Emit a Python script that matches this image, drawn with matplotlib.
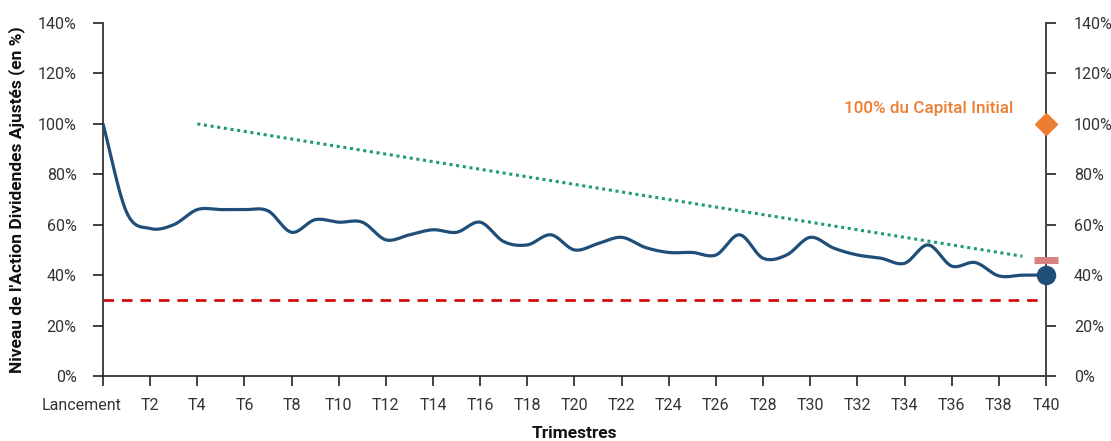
import numpy as np
import matplotlib
matplotlib.use('Agg')
import matplotlib.pyplot as plt
import matplotlib.transforms as mtransforms
from matplotlib.ticker import FuncFormatter

# niveau de l'action (en %) a chaque trimestre, T0 = lancement
trimestres = list(range(0, 41))
niveau = [100, 65, 58.5, 60, 66, 66, 66, 65.5, 57, 62,
          61, 61, 54, 56, 58, 57, 61, 53.3, 52, 56,
          50, 52.5, 55, 51, 49, 49, 48, 56, 46.7, 48,
          55, 50.7, 48, 46.7, 44.7, 52, 43.6, 45, 39.7, 40,
          40]

# barriere de remboursement anticipe (pointilles verts)
barriere_x = [4, 39]
barriere_y = [100, 47.5]

barriere_capital = 30     # ligne rouge
niveau_coupon = 46        # repere rose en T40
capital_initial = 100     # losange orange
niveau_final = 40         # point bleu

tick_pos = [0] + list(range(2, 41, 2))
tick_lab = ['Lancement'] + [f'T{i}' for i in range(2, 41, 2)]


def lissage(x, y, n=20):
    # courbe lissee type Catmull-Rom (comme "lissage" d'Excel)
    x = np.asarray(x, float)
    y = np.asarray(y, float)
    px = np.concatenate([[2 * x[0] - x[1]], x, [2 * x[-1] - x[-2]]])
    py = np.concatenate([[2 * y[0] - y[1]], y, [2 * y[-1] - y[-2]]])
    xs, ys = [], []
    t = np.linspace(0, 1, n, endpoint=False)
    for i in range(1, len(px) - 2):
        for p, out in ((px, xs), (py, ys)):
            p0, p1, p2, p3 = p[i - 1], p[i], p[i + 1], p[i + 2]
            out.extend(0.5 * ((2 * p1) + (-p0 + p2) * t
                              + (2 * p0 - 5 * p1 + 4 * p2 - p3) * t ** 2
                              + (-p0 + 3 * p1 - 3 * p2 + p3) * t ** 3))
    xs.append(x[-1])
    ys.append(y[-1])
    return np.array(xs), np.array(ys)


plt.rcParams['font.family'] = ['Roboto', 'DejaVu Sans']

fig = plt.figure(figsize=(11.11, 4.41), dpi=100)
ax = fig.add_axes([0.0927, 0.1474, 0.8488, 0.8004])

ax.plot(*lissage(trimestres, niveau), color='#1f4e79', lw=2.3, zorder=4,
        solid_capstyle='round')
ax.plot(barriere_x, barriere_y, color='#1e9a78', lw=2.2, ls=(0, (1, 1.2)), zorder=3)
ax.plot([0, 40], [barriere_capital, barriere_capital], color='#d40000', lw=1.9,
        ls=(0, (4, 3)), zorder=3)

ax.set_xlim(0, 40)
ax.set_ylim(0, 140)
ax.set_xticks(tick_pos)
ax.set_xticklabels(tick_lab)
ax.set_yticks(range(0, 141, 20))
pct = FuncFormatter(lambda v, p: f'{v:.0f}%')
ax.yaxis.set_major_formatter(pct)

for s in ['top', 'right']:
    ax.spines[s].set_visible(False)
for s in ['left', 'bottom']:
    ax.spines[s].set_color('#222222')
    ax.spines[s].set_linewidth(1.2)
ax.tick_params(axis='x', length=7, width=1.2, color='#222222',
               labelsize=11.5, labelcolor='#333333', pad=9)
ax.tick_params(axis='y', length=7, width=1.2, color='#222222',
               labelsize=11.5, labelcolor='#333333', pad=12)

# "Lancement" decale vers la gauche pour ne pas toucher T2
lab0 = ax.get_xticklabels()[0]
lab0.set_transform(lab0.get_transform()
                   + mtransforms.ScaledTranslation(-0.21, 0, fig.dpi_scale_trans))

ax2 = ax.twinx()
ax2.set_ylim(0, 140)
ax2.set_yticks(range(0, 141, 20))
ax2.yaxis.set_major_formatter(pct)
for s in ['top', 'left', 'bottom']:
    ax2.spines[s].set_visible(False)
ax2.spines['right'].set_color('#444444')
ax2.spines['right'].set_linewidth(1.4)
ax2.tick_params(axis='y', length=7, width=1.2, color='#222222',
                labelsize=11.5, labelcolor='#333333', pad=13)

# reperes en T40, dessines sur l'axe de droite pour passer devant les ticks
ax2.plot([40], [niveau_coupon], marker='_', ms=17, mew=5, color='#d98080',
         zorder=5, clip_on=False)
ax2.plot([40], [niveau_final], marker='o', ms=13, color='#1f4e79', zorder=6,
         clip_on=False)
ax2.plot([40], [capital_initial], marker='D', ms=11, color='#ed7d31', zorder=6,
         clip_on=False)
ax2.text(38.6, 106, '100% du Capital Initial', color='#ed7d31', fontsize=12.3,
         fontweight='medium', ha='right', va='center')

ax.set_ylabel("Niveau de l'Action Dividendes Ajustés (en %)", fontsize=12.5,
              fontweight='bold', color='#111111', labelpad=9)
ax.set_xlabel('Trimestres', fontsize=12.5, fontweight='bold', color='#111111',
              labelpad=9)

fig.savefig('out.png', dpi=100)
